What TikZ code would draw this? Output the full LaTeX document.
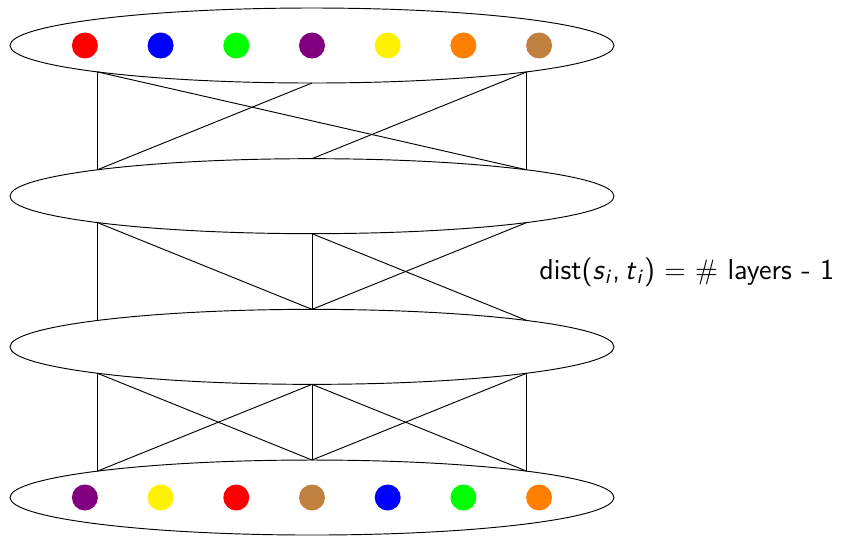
\documentclass[tikz,border=0pt]{standalone}
\usepackage{amsmath}
\usepackage{tikz}
\usetikzlibrary{positioning, shapes.geometric}
\usepackage{xcolor}
\definecolor{dotpurple}{rgb}{0.5,0,0.5}

\begin{document}
\begin{tikzpicture}[
      x=0.015cm, y=-0.015cm,
      node distance=1.135cm,
      layer/.style={
        ellipse, draw, minimum width=9.06cm, minimum height=1.125cm,
        inner sep=0pt, outer sep=0pt
      },
      dot/.style={circle, minimum size=0.39cm, inner sep=0pt}
    ]
    \useasboundingbox (0,0) rectangle (843,536);

    \node[layer] (l1) at (312,45.5) {};
    \node[layer, below=of l1] (l2) {};
    \node[layer, below=of l2] (l3) {};
    \node[layer, below=of l3] (l4) {};

    % sources and targets
    \foreach \c [count=\i] in {red, blue, green, dotpurple, yellow, orange, brown}
      \node[dot, fill=\c] (s\i) at (312+\i*75.7-302.8,45.5) {};
    \foreach \c [count=\i] in {dotpurple, yellow, red, brown, blue, green, orange}
      \node[dot, fill=\c] (t\i) at (312+\i*75.7-302.8,497.5) {};

    \foreach \a/\b in {l1.187/l2.173, l1.353/l2.7, l1.187/l2.7, l1.south/l2.173, l1.353/l2.north,
                       l2.187/l3.173, l2.187/l3.north, l2.south/l3.north, l2.south/l3.7, l2.353/l3.north,
                       l3.187/l4.173, l3.187/l4.north, l3.south/l4.173, l3.south/l4.north,
                       l3.south/l4.7, l3.353/l4.north, l3.353/l4.7}
      \draw (\a) -- (\b);

    \node[right, inner sep=0pt] (dist) at (539,272)
      {\fontsize{12.3}{14}\selectfont\sffamily dist(\textit{s}\textsubscript{\textit{i}},\,\textit{t}\textsubscript{\textit{i}}) $=$ $\#$ layers - 1};
  \end{tikzpicture}
\end{document}
